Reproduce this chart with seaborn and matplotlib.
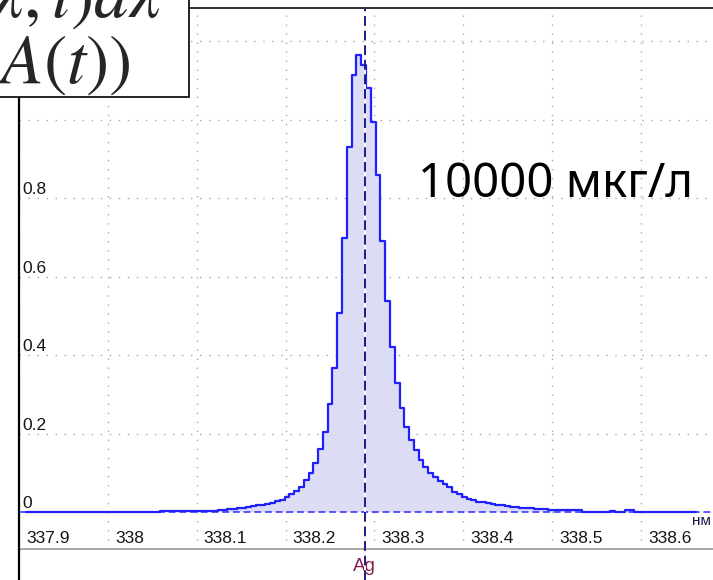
import numpy as np
import pandas as pd
import matplotlib
matplotlib.use("Agg")
import matplotlib.pyplot as plt
import matplotlib.transforms as mtransforms
from matplotlib.patches import Rectangle
from matplotlib.lines import Line2D
import seaborn as sns

# ---------------- data ----------------
wl_start = 337.9078      # left edge of the first detector pixel (nm)
wl_step = 0.00539        # detector pixel width (nm)
intensity = [
    # far left wing
    0.000, 0.000, 0.000, 0.000, 0.000, 0.000, 0.000, 0.000, 0.000, 0.000,
    0.000, 0.000, 0.000, 0.000, 0.000, 0.000, 0.000, 0.000, 0.000, 0.000,
    0.000, 0.000, 0.000, 0.000, 0.000, 0.000,
    0.002, 0.002, 0.003, 0.003, 0.003, 0.003, 0.003, 0.003, 0.003, 0.003,
    0.003, 0.003, 0.004, 0.004,
    # rising side
    0.007, 0.007, 0.008, 0.009, 0.011, 0.012, 0.013, 0.016, 0.018, 0.019,
    0.021, 0.024, 0.029, 0.033, 0.039, 0.047, 0.056, 0.066, 0.083, 0.101,
    0.125, 0.161, 0.204, 0.276, 0.369, 0.507, 0.699,
    # peak and falling side
    0.932, 1.115, 1.166, 1.140, 1.081, 0.996, 0.860, 0.692, 0.539, 0.421,
    0.331, 0.267, 0.219, 0.185, 0.158, 0.135, 0.117, 0.100, 0.090, 0.080,
    0.072, 0.064, 0.053, 0.046, 0.040, 0.035, 0.031, 0.028, 0.026, 0.023,
    0.021, 0.019, 0.018, 0.016, 0.015, 0.013, 0.012, 0.011, 0.011, 0.010,
    0.009, 0.009,
    # far right wing
    0.006, 0.006, 0.006, 0.006, 0.006, 0.006, 0.006,
    0.002, 0.002, 0.002, 0.002, 0.002, 0.002,
    0.005, 0.002, 0.002, 0.007, 0.007,
    0.000, 0.000, 0.000, 0.000, 0.000, 0.000, 0.000, 0.000, 0.000, 0.000,
    0.000, 0.000, 0.000,
]
x_ticks = [337.9, 338.0, 338.1, 338.2, 338.3, 338.4, 338.5, 338.6]
x_tick_labels = ["337.9", "338", "338.1", "338.2", "338.3", "338.4", "338.5", "338.6"]
y_ticks = [0.0, 0.2, 0.4, 0.6, 0.8]
y_tick_labels = ["0", "0.2", "0.4", "0.6", "0.8"]
y_grid = [0.2, 0.4, 0.6, 0.8, 1.0, 1.2]
line_wl = 338.289
line_label = "Ag"
unit_label = "нм"
conc_label = "10000 мкг/л"
formula_top = r"$I(\lambda, t)d\lambda$"
formula_bottom = r"$A(t))$"

# ---------------- style ----------------
sns.set_style("white")
plt.rcParams["font.family"] = ["Liberation Sans", "DejaVu Sans"]
plt.rcParams["mathtext.fontset"] = "stix"

W, H, DPI = 713, 580, 100
fig = plt.figure(figsize=(W / DPI, H / DPI), dpi=DPI)
ax_left, ax_bottom, ax_top = 19, 549, 7.5   # pixel positions
ax = fig.add_axes([ax_left / W, (H - ax_bottom) / H, 1 - ax_left / W, (ax_bottom - ax_top) / H])

n_bins = len(intensity)
wl_end = wl_start + wl_step * n_bins
df = pd.DataFrame({
    "wavelength": wl_start + wl_step * (np.arange(n_bins) + 0.5),
    "intensity": intensity,
})

fill_color = "#dcdcf5"
line_color = "#2020ff"

sns.histplot(data=df, x="wavelength", weights="intensity", bins=n_bins,
             binrange=(wl_start, wl_end), element="step", fill=True,
             color=fill_color, alpha=1, linewidth=0, ax=ax, zorder=2)
sns.histplot(data=df, x="wavelength", weights="intensity", bins=n_bins,
             binrange=(wl_start, wl_end), element="step", fill=False,
             color=line_color, linewidth=1.6, ax=ax, zorder=4)

ax.set_xlim(337.9063, 338.681)
ax.set_ylim(-0.093, 1.2866)
ax.set_xlabel("")
ax.set_ylabel("")

ax.set_xticks(x_ticks)
ax.set_yticks(y_grid)
ax.tick_params(length=0, labelbottom=False, labelleft=False)
ax.grid(True, color="#a8a8a8", linewidth=1.0, linestyle=(0, (1, 5.5)), zorder=1)
ax.set_axisbelow(True)

ax.spines["right"].set_visible(False)
ax.spines["left"].set_color("black")
ax.spines["left"].set_linewidth(1.6)
ax.spines["top"].set_color("#303030")
ax.spines["top"].set_linewidth(1.4)
ax.spines["bottom"].set_color("#a8a8a8")
ax.spines["bottom"].set_linewidth(1.4)

# baseline at zero
ax.axhline(0, color="#2b2bff", linewidth=1.1, linestyle=(0, (4.5, 2.5)), zorder=3)

# element line
ax.axvline(line_wl, ymin=-(H - ax_bottom) / (ax_bottom - ax_top), ymax=1,
           color="#1c1c8a", linewidth=1.4, linestyle=(0, (5, 2.5)),
           gapcolor="white", clip_on=False, zorder=5)
ax.text(line_wl, -0.041, line_label,
        transform=mtransforms.blended_transform_factory(ax.transData, ax.transAxes),
        ha="center", va="baseline", fontsize=13.5, color="#8b1c50", clip_on=False)

# tick labels inside the plot
off_x = mtransforms.ScaledTranslation(7 / DPI, 0, fig.dpi_scale_trans)
for t, lab in zip(x_ticks, x_tick_labels):
    ax.text(t, -0.0777, lab, transform=ax.transData + off_x, ha="left", va="baseline",
            fontsize=12.5, color="#151515", clip_on=False, zorder=6)
off_y = mtransforms.ScaledTranslation(0, 4 / DPI, fig.dpi_scale_trans)
ytrans = mtransforms.blended_transform_factory(ax.transAxes, ax.transData) + off_y
for t, lab in zip(y_ticks, y_tick_labels):
    ax.text(0.0045, t, lab, transform=ytrans, ha="left", va="baseline",
            fontsize=12.5, color="#151515", zorder=6)

ax.text(338.657, -0.032, unit_label, ha="left", va="baseline", fontsize=11,
        color="#1a1a50", clip_on=False)

# left frame line continues below the axes
fig.add_artist(Line2D([ax_left / W, ax_left / W], [0, (H - ax_bottom) / H],
                      transform=fig.transFigure, color="black", linewidth=1.6))

# concentration label
fig.text(418 / W, (H - 197) / H, conc_label, fontsize=34,
         family=["Noto Sans", "DejaVu Sans"], ha="left", va="baseline", color="black")

# formula box (top-left)
box = Rectangle((-0.02, (H - 97) / H), 189 / W + 0.02, 97 / H + 0.02,
                transform=fig.transFigure, facecolor="white", edgecolor="black",
                linewidth=1.2, zorder=10)
fig.add_artist(box)
fig.text(160 / W, (H - 17) / H, formula_top, fontsize=50, ha="right", va="baseline", zorder=11)
fig.text(-3 / W, (H - 83) / H, formula_bottom, fontsize=50, ha="left", va="baseline", zorder=11)

fig.savefig("out.png", dpi=DPI)
